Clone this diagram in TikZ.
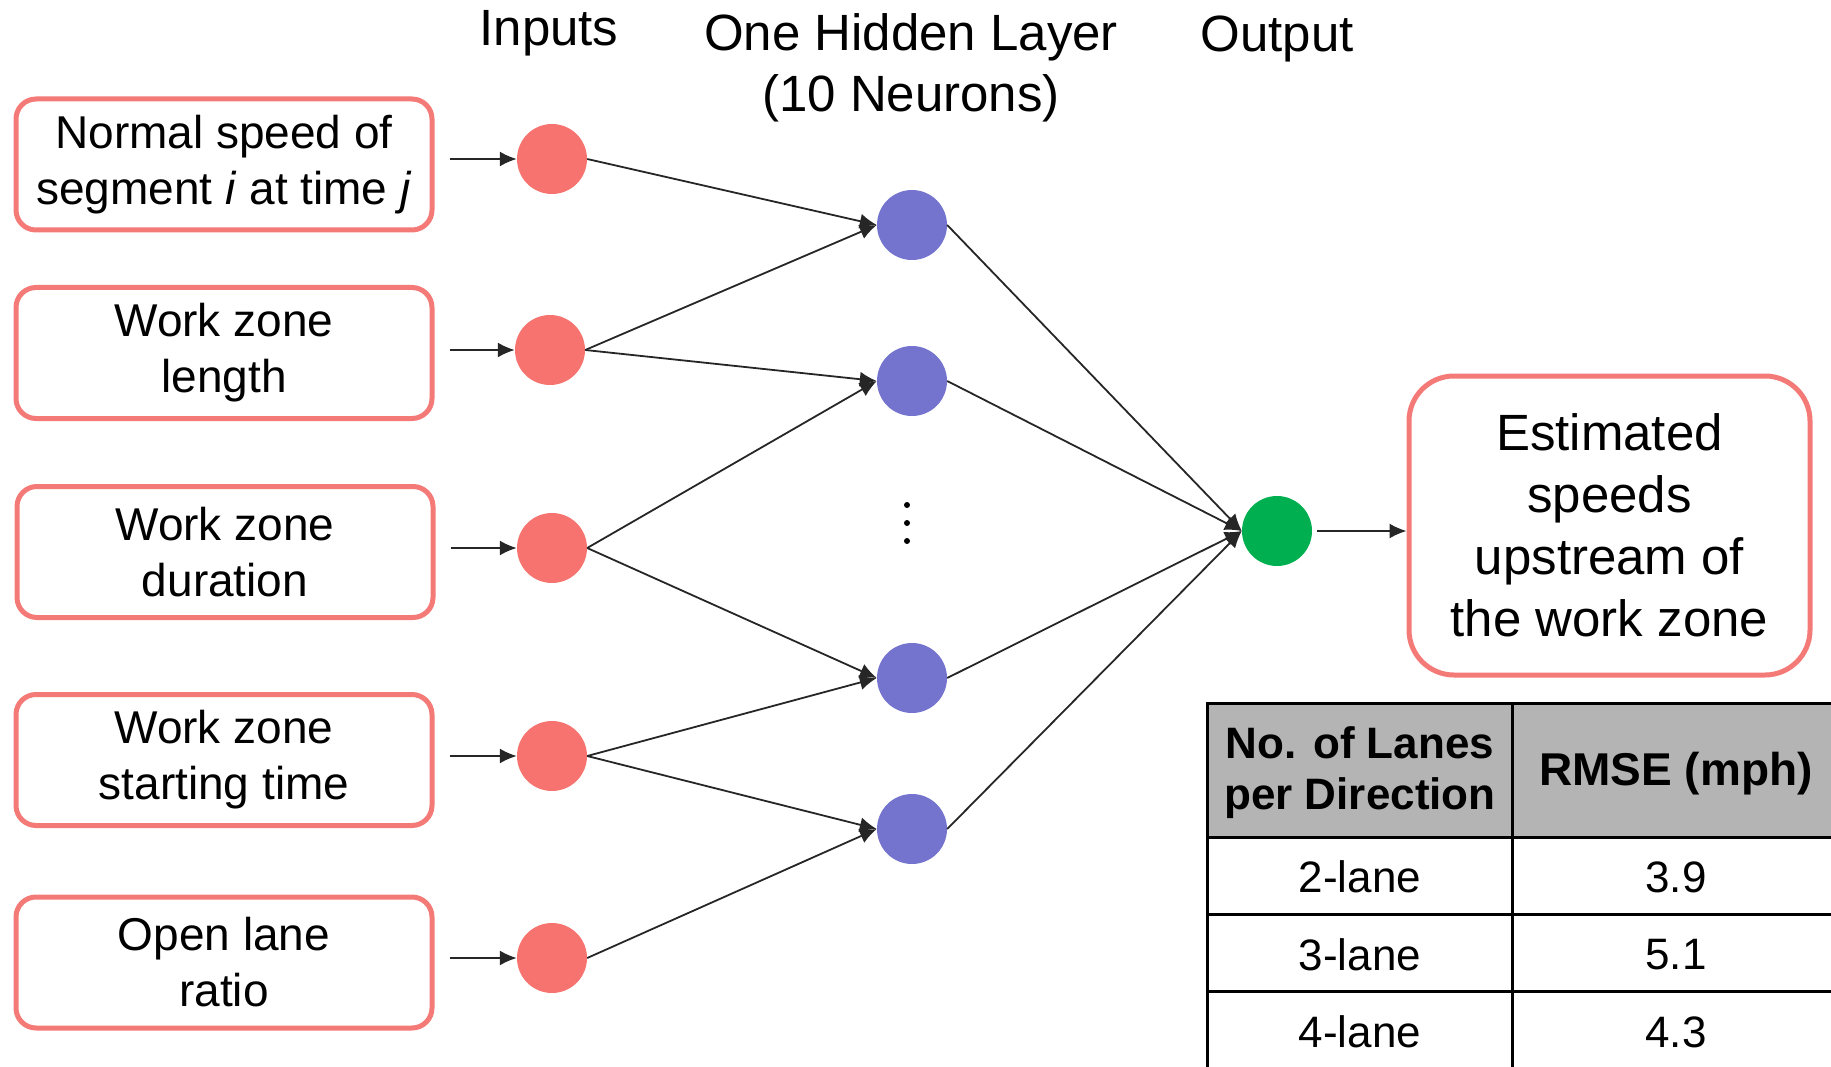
\documentclass[tikz,border=0pt]{standalone}
\usepackage{fontspec}
\setmainfont{Liberation Sans}
\usetikzlibrary{arrows.meta,calc}
\definecolor{boxred}{HTML}{F47A78}
\definecolor{inred}{HTML}{F6736F}
\definecolor{hidblue}{HTML}{7474CF}
\definecolor{outgreen}{HTML}{00AF50}
\definecolor{hdrgray}{HTML}{B4B4B4}
\begin{document}
\begin{tikzpicture}[x=1pt,y=-1pt,
  inbox/.style={draw=boxred,line width=5pt,rounded corners=20pt,fill=white,
    minimum width=416pt,minimum height=131pt,align=center,inner sep=0pt,
    font=\fontsize{46}{56}\selectfont},
  outbox/.style={draw=boxred,line width=5pt,rounded corners=45pt,fill=white,
    minimum width=401pt,minimum height=299pt,align=center,inner sep=0pt,
    font=\fontsize{51}{62}\selectfont},
  neuron/.style={circle,minimum size=70pt,inner sep=0pt},
  innode/.style={neuron,fill=inred},
  hidnode/.style={neuron,fill=hidblue},
  outnode/.style={neuron,fill=outgreen},
  hdr/.style={font=\fontsize{51}{61}\selectfont,align=center,inner sep=0pt},
  arr/.style={line width=1.8pt,draw=black!85,-{Latex[length=17pt,width=15pt]}},
  tbl/.style={font=\fontsize{44}{51}\selectfont,align=center,inner sep=0pt},
  tblbold/.style={font=\bfseries\fontsize{44}{51}\selectfont,align=center,inner sep=0pt},
  rule/.style={line width=3pt,draw=black}
]
\useasboundingbox (0,0) rectangle (1831,1067);
\clip (0,0) rectangle (1831,1067);

% headers
\node[hdr] (hin) at (549,33) {Inputs};
\node[hdr] (hhid) at (911,68) {One Hidden Layer\\(10 Neurons)};
\node[hdr] (hout) at (1277,39) {Output};

% input boxes
\node[inbox] (b1) at (224,164.5) {Normal speed of\\segment \textit{i} at time \textit{j}};
\node[inbox] (b2) at (224,353) {Work zone\\length};
\node[inbox] (b3) at (225,552) {Work zone\\duration};
\node[inbox] (b4) at (224,760) {Work zone\\starting time};
\node[inbox] (b5) at (224,962.5) {Open lane\\ratio};

% input neurons
\node[innode] (i1) at (552,159) {};
\node[innode] (i2) at (550,350) {};
\node[innode] (i3) at (552,548) {};
\node[innode] (i4) at (552,756) {};
\node[innode] (i5) at (552,958) {};

% hidden neurons
\node[hidnode] (h1) at (912,225) {};
\node[hidnode] (h2) at (912,381) {};
\node[hidnode] (h3) at (912,678) {};
\node[hidnode] (h4) at (912,829) {};

% dots
\fill (907,505) circle (3pt);
\fill (907,523) circle (3pt);
\fill (907,541) circle (3pt);

% output neuron and box
\node[outnode] (o) at (1277,531) {};
\node[outbox] (est) at (1609.5,525.5) {Estimated\\speeds\\upstream of\\the work zone};

% box -> input arrows
\foreach \k in {1,...,5}{
  \draw[arr,shorten <=15pt] (b\k.east |- i\k) -- (i\k.west);
}

% input -> hidden
\draw[arr] (i1.east) -- (h1.west);
\draw[arr] (i2.east) -- (h1.west);
\draw[arr] (i2.east) -- (h2.west);
\draw[arr] (i3.east) -- (h2.west);
\draw[arr] (i3.east) -- (h3.west);
\draw[arr] (i4.east) -- (h3.west);
\draw[arr] (i4.east) -- (h4.west);
\draw[arr] (i5.east) -- (h4.west);

% hidden -> output
\foreach \k in {1,...,4}{
  \draw[arr] (h\k.east) -- (o.west);
}

% output -> box
\draw[arr,shorten <=5pt] (o.east) -- (o.east -| est.west);

% table
\fill[hdrgray] (1207,703) rectangle (1840,837);
\draw[rule] (1207,1080) -- (1207,703) -- (1840,703);
\draw[rule] (1207,837) -- (1840,837);
\draw[rule] (1207,914) -- (1840,914);
\draw[rule] (1207,991) -- (1840,991);
\draw[rule] (1512,703) -- (1512,1080);
\node[tblbold] (t11) at (1360,773) {No. of Lanes\\per Direction};
\node[tblbold,font=\bfseries\fontsize{46}{51}\selectfont] (t12) at (1676,774) {RMSE (mph)};
\node[tbl] (t21) at (1360,877) {2-lane};
\node[tbl] (t22) at (1676,877) {3.9};
\node[tbl] (t31) at (1360,955) {3-lane};
\node[tbl] (t32) at (1676,955) {5.1};
\node[tbl] (t41) at (1360,1032) {4-lane};
\node[tbl] (t42) at (1676,1032) {4.3};
\end{tikzpicture}
\end{document}
